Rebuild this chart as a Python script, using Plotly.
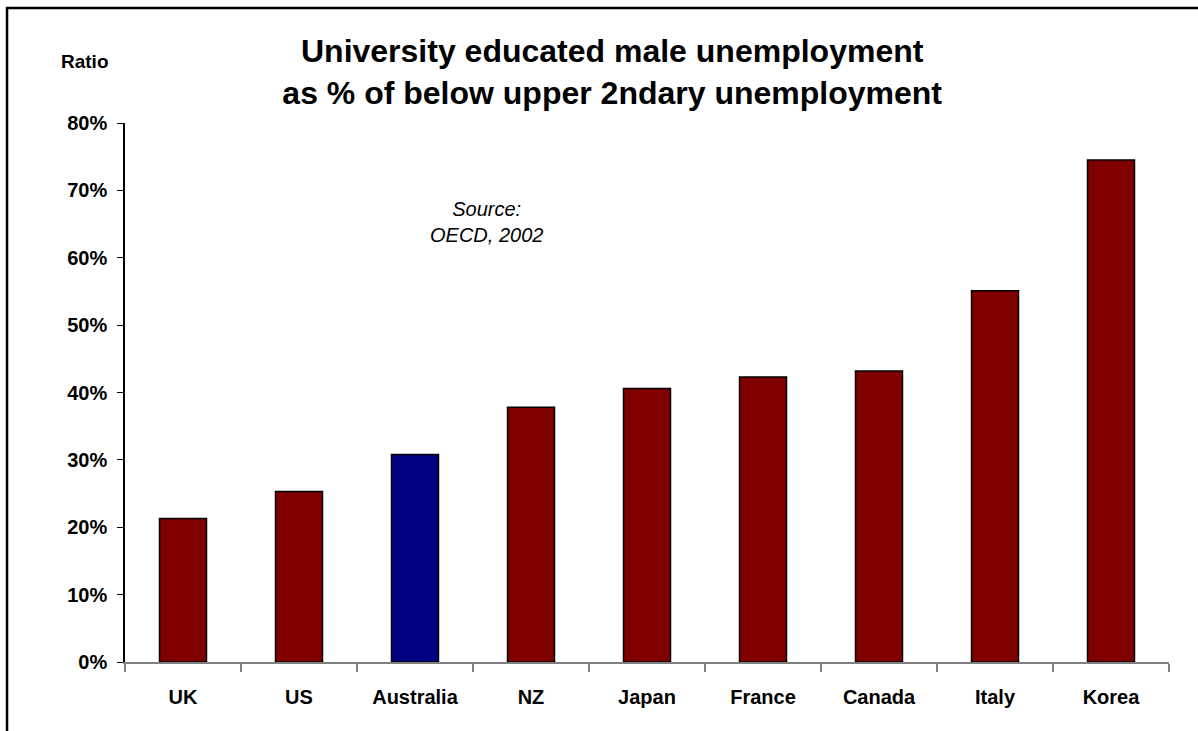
import plotly.graph_objects as go

countries = ["UK", "US", "Australia", "NZ", "Japan", "France", "Canada", "Italy", "Korea"]
ratios = [0.213, 0.253, 0.308, 0.378, 0.406, 0.423, 0.432, 0.551, 0.745]
colors = ["#800000", "#800000", "#000080", "#800000", "#800000", "#800000", "#800000", "#800000", "#800000"]
y_ticks = [0, 0.1, 0.2, 0.3, 0.4, 0.5, 0.6, 0.7, 0.8]
y_tick_labels = ["0%", "10%", "20%", "30%", "40%", "50%", "60%", "70%", "80%"]

FONT = "Liberation Sans, Arial, sans-serif"

fig = go.Figure(go.Bar(
    x=countries, y=ratios,
    marker=dict(color=colors, line=dict(color="#000000", width=1.5)),
    width=0.405,
))

fig.update_layout(
    width=1198, height=731,
    margin=dict(l=125, r=29, t=123, b=69),
    paper_bgcolor="white", plot_bgcolor="white",
    showlegend=False,
    font=dict(family=FONT, color="#000000"),
    title=dict(
        text="<b>University educated male unemployment<br>as % of below upper 2ndary unemployment</b>",
        x=0.511, xanchor="center", y=0.915, yanchor="middle",
        font=dict(size=32, family=FONT, color="#000000"),
    ),
    xaxis=dict(
        showline=True, linecolor="#808080", linewidth=2,
        ticks="outside", tickson="boundaries", ticklen=8, tickcolor="#808080", tickwidth=1.5,
        tickfont=dict(size=20, family=FONT, weight="bold"), showgrid=False,
        ticklabelstandoff=16,
    ),
    yaxis=dict(
        range=[0, 0.8], tickvals=y_ticks, ticktext=y_tick_labels,
        showline=True, linecolor="#000000", linewidth=1.5,
        ticks="outside", ticklen=6, tickcolor="#000000",
        tickfont=dict(size=20, family=FONT, weight="bold"), showgrid=False, zeroline=False,
        ticklabelstandoff=6,
    ),
    annotations=[
        dict(text="<b>Ratio</b>", xref="paper", yref="paper", x=-0.0383, y=1.115,
             xanchor="center", yanchor="middle", showarrow=False,
             font=dict(size=19, family=FONT)),
        dict(text="<i>Source:<br>OECD, 2002</i>", xref="paper", yref="paper", x=0.3458, y=0.816,
             xanchor="center", yanchor="middle", showarrow=False,
             font=dict(size=20, family=FONT)),
    ],
    shapes=[
        dict(type="rect", xref="paper", yref="paper", x0=-0.113, x1=1.1, y0=-0.2, y1=1.2134,
             line=dict(color="#000000", width=2.5)),
    ],
)

fig.write_html("out.html", config={"displayModeBar": False},
               post_script="document.body.style.margin='0px';")
